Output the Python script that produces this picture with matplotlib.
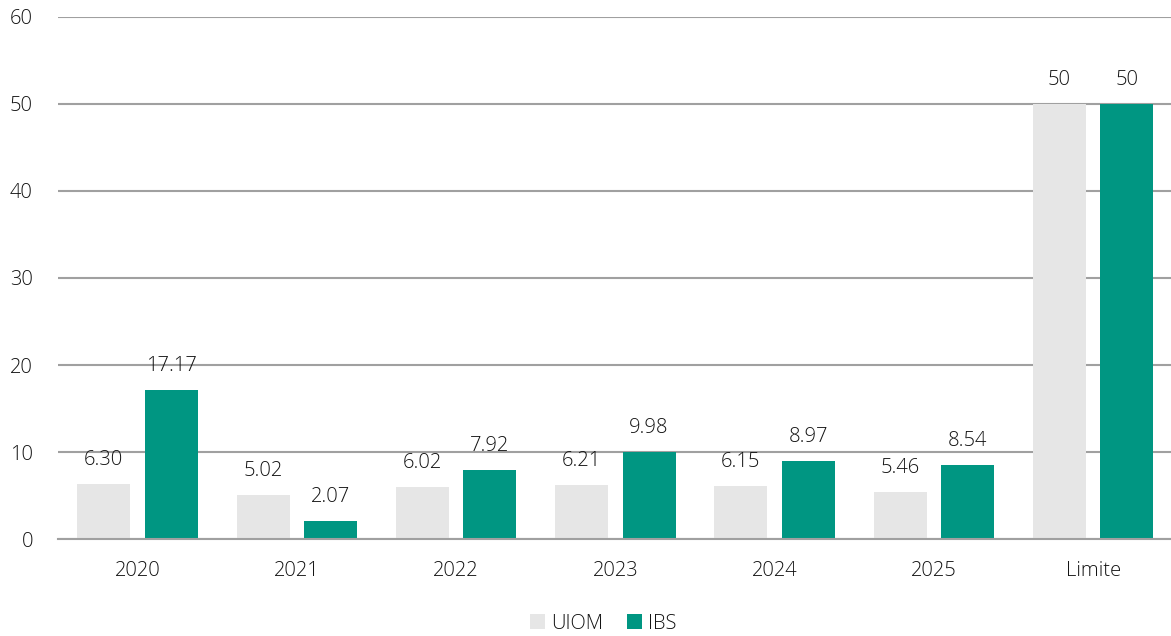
import numpy as np
import matplotlib
matplotlib.use('Agg')
import matplotlib.pyplot as plt
import matplotlib.ticker as ticker

plt.rcParams['font.family'] = ['Open Sans', 'DejaVu Sans']
plt.rcParams['font.weight'] = 'light'

categories = ['2020', '2021', '2022', '2023', '2024', '2025', 'Limite']
uiom = [6.30, 5.02, 6.02, 6.21, 6.15, 5.46, 50]
ibs = [17.17, 2.07, 7.92, 9.98, 8.97, 8.54, 50]
uiom_labels = ['6.30', '5.02', '6.02', '6.21', '6.15', '5.46', '50']
ibs_labels = ['17.17', '2.07', '7.92', '9.98', '8.97', '8.54', '50']

grey = '#e6e6e6'
green = '#009682'
text_col = '#141414'
fs = 14.5

fig = plt.figure(figsize=(11.71, 6.36), dpi=100)
ax = fig.add_axes([0.0495, 0.1525, 0.952, 0.8208])

x = np.arange(len(categories))
w = 0.333
off = 0.212
b1 = ax.bar(x - off, uiom, w, color=grey, label='UIOM', zorder=3)
b2 = ax.bar(x + off, ibs, w, color=green, label='IBS', zorder=3)

for bars, labs in ((b1, uiom_labels), (b2, ibs_labels)):
    for rect, lab in zip(bars, labs):
        ax.annotate(lab, (rect.get_x() + rect.get_width() / 2, rect.get_height()),
                    xytext=(0, 10), textcoords='offset points', ha='center', va='bottom',
                    fontsize=fs, color=text_col)

ax.set_xlim(-0.5, len(categories) - 0.5)
ax.set_ylim(0, 60)
ax.yaxis.set_major_locator(ticker.MultipleLocator(10))
ax.set_xticks(x)
ax.set_xticklabels(categories)
ax.tick_params(axis='both', length=0, labelsize=fs, labelcolor=text_col)
ax.tick_params(axis='x', pad=16)
ax.tick_params(axis='y', pad=18)
ax.grid(axis='y', color='#a0a0a0', linewidth=1.5, zorder=0)
for s in ['top', 'right', 'left']:
    ax.spines[s].set_visible(False)
ax.spines['bottom'].set_color('#a0a0a0')
ax.spines['bottom'].set_linewidth(1.5)
ax.spines['bottom'].set_zorder(4)

ax.legend(loc='center', bbox_to_anchor=((603 / 1171 - 0.0495) / 0.952, -0.162),
          ncol=2, frameon=False, fontsize=fs, handlelength=0.75, handleheight=0.75,
          handletextpad=0.3, columnspacing=1.2, labelcolor=text_col)

fig.savefig('out.png', dpi=100)
